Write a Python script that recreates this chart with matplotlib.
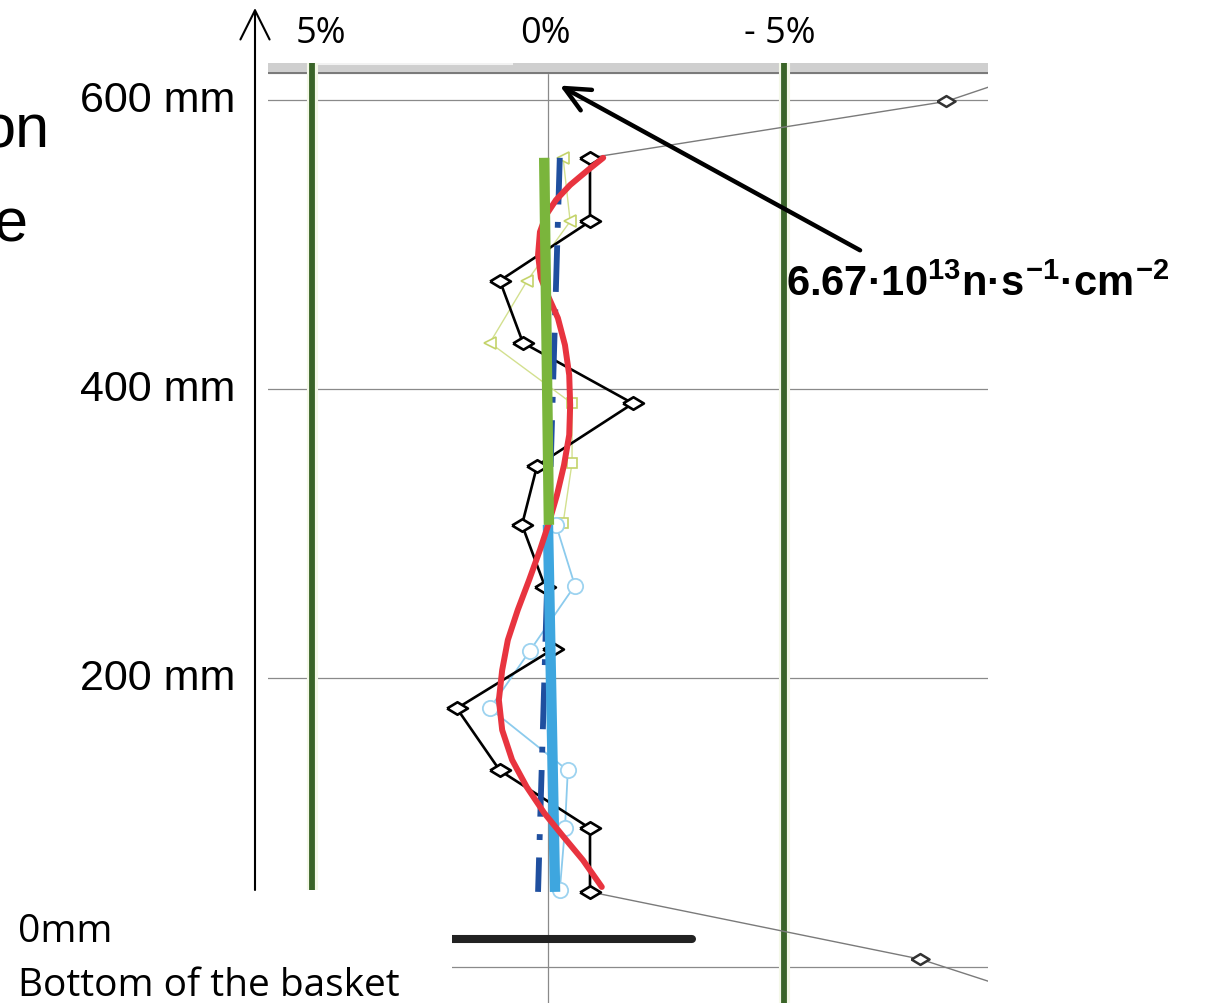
import matplotlib
matplotlib.use("Agg")
import matplotlib.pyplot as plt
from matplotlib.patches import Rectangle, FancyArrowPatch

W, H = 1205, 1007

plt.rcParams.update({
    "mathtext.fontset": "custom",
    "mathtext.rm": "Liberation Sans:bold",
    "mathtext.it": "Liberation Sans:bold",
    "mathtext.bf": "Liberation Sans:bold",
})

# axial profile: deviation in % (x) against height in the basket in mm (y)
meas_h = [560, 516, 475, 432, 390, 347, 306, 263, 220, 179, 136, 96, 52]
meas_dev = [-0.89, -0.89, 1.02, 0.53, -1.80, 0.23, 0.55, 0.06, -0.11, 1.93, 1.02, -0.89, -0.89]

fit_h = [560, 551.6, 541.2, 530.8, 520.4, 508.7, 492.7, 476.8, 463, 449.1, 430.4,
         409.7, 388.9, 368.2, 347.4, 326.6, 307.3, 288.6, 267.8, 247.1, 226.3,
         205.5, 184.8, 164, 143.3, 124.6, 106.6, 91.3, 74, 55.4]
fit_dev = [-1.17, -0.85, -0.47, -0.17, 0.04, 0.17, 0.21, 0.15, -0.02, -0.21, -0.36,
           -0.45, -0.47, -0.45, -0.34, -0.19, -0.02, 0.17, 0.40, 0.64, 0.85,
           0.97, 1.04, 0.97, 0.76, 0.45, 0.08, -0.30, -0.74, -1.14]

upper_h = [560, 306]
upper_dev = [0.08, -0.02]
lower_h = [306, 52]
lower_dev = [0.0, -0.15]

ref_h = [560, 52]
ref_dev = [-0.25, 0.21]

calc_up_h = [560, 516, 475, 432, 390, 349, 307]
calc_up_dev = [-0.32, -0.47, 0.44, 1.23, -0.51, -0.51, -0.32]
calc_low_h = [306, 264, 219, 179, 136, 96, 53]
calc_low_dev = [-0.17, -0.57, 0.38, 1.23, -0.42, -0.36, -0.25]

end_top_h = [560, 599, 635]
end_top_dev = [-0.89, -8.43, -11.7]
end_bot_h = [52, 5.5, -35]
end_bot_dev = [-0.89, -7.88, -11.7]

limits = [5, -5]
grid_h = [0, 200, 400, 600]
height_labels = ["600 mm", "400 mm", "200 mm"]
pct_labels = ["5%", "0%", "- 5%"]


def fx(x):
    return x / W


def fy(y):
    return 1 - y / H


fig = plt.figure(figsize=(W / 100, H / 100), dpi=100)
ax = fig.add_axes([fx(268), fy(1003), fx(988) - fx(268), fy(63) - fy(1003)])
ax.set_xlim(5.93, -9.32)
ax.set_ylim(-24.9, 625.6)
ax.axis("off")

# grid and header strip
for h in grid_h:
    ax.axhline(h, color="#8a8a8a", lw=0.9, zorder=1)
ax.axvline(0, color="#8a8a8a", lw=0.9, zorder=1)
ax.axhspan(618.7, 626, color="#cfcfcf", zorder=1)
ax.axhline(618.7, color="#6a6a6a", lw=1.2, zorder=1)
ax.plot([4.95, 0.76], [624.6, 624.6], color="#f2f2f2", lw=1.5, zorder=1)

for lim in limits:
    ax.axvline(lim, color="#f4f8e8", lw=8, zorder=1)
    ax.axvline(lim, color="#3a6428", lw=4.2, zorder=2)

diamond = [(-1, 0), (0, 0.6), (1, 0), (0, -0.6), (-1, 0)]

ax.plot(end_top_dev, end_top_h, color="#7a7a7a", lw=1, zorder=2)
ax.plot(end_bot_dev, end_bot_h, color="#7a7a7a", lw=1, zorder=2)
ax.plot(end_top_dev[1], end_top_h[1], ls="none", marker=diamond, ms=13,
        mfc="white", mec="#333333", mew=1.8, zorder=3)
ax.plot(end_bot_dev[1], end_bot_h[1], ls="none", marker=diamond, ms=13,
        mfc="white", mec="#333333", mew=1.8, zorder=3)

ax.plot(calc_up_dev, calc_up_h, color="#d3e08f", lw=1, zorder=2)
ax.plot(calc_up_dev[:4], calc_up_h[:4], ls="none", marker="<", ms=9,
        mfc="white", mec="#c4d36a", mew=1.2, zorder=2)
ax.plot(calc_up_dev[4:], calc_up_h[4:], ls="none", marker="s", ms=7,
        mfc="white", mec="#c4d36a", mew=1.2, zorder=2)

ax.plot(calc_low_dev, calc_low_h, color="#8ccbed", lw=1.3, marker="o", ms=11,
        mfc="white", mec="#9dd3f0", mew=1.3, zorder=2)

ax.plot(meas_dev, meas_h, color="black", lw=1.9, marker=diamond, ms=15,
        mfc="white", mec="black", mew=1.9, zorder=3)

ax.plot(ref_dev, ref_h, color="#1f4f9f", lw=4.2, ls=(0, (8, 3, 1, 3)), zorder=4)
ax.plot(lower_dev, lower_h, color="#3ea6df", lw=7.5, solid_capstyle="butt", zorder=5)
ax.plot(fit_dev, fit_h, color="#e8343f", lw=4.3, solid_capstyle="round",
        solid_joinstyle="round", zorder=6)
ax.plot(upper_dev, upper_h, color="#7ab53c", lw=7.5, solid_capstyle="butt", zorder=7)

# scale bar below the basket
ax.plot([3.0, -3.05], [19.7, 19.7], color="#222222", lw=5.8,
        solid_capstyle="round", zorder=3)

ax.annotate("", xy=(-0.25, 610), xytext=(-6.61, 496),
            arrowprops=dict(arrowstyle="->,head_length=0.6,head_width=0.28",
                            lw=3.2, color="black", shrinkA=0, shrinkB=0,
                            mutation_scale=30),
            zorder=9, annotation_clip=False)

# blank corner over the bottom of the picture
fig.add_artist(Rectangle((fx(258), 0), fx(452) - fx(258), fy(890),
                         transform=fig.transFigure, facecolor="white",
                         edgecolor="none", zorder=5))

fig.add_artist(FancyArrowPatch((fx(255), fy(890)), (fx(255), fy(8)),
                               transform=fig.transFigure,
                               arrowstyle="->,head_length=0.7,head_width=0.35",
                               mutation_scale=30, lw=1.5, color="black",
                               shrinkA=0, shrinkB=0, zorder=6))

for label, y in zip(height_labels, [112, 401, 690]):
    fig.text(fx(235), fy(y), label, ha="right", va="baseline", fontsize=31,
             family="Liberation Sans", zorder=6)

for label, x in zip(pct_labels, [321, 545, 780]):
    fig.text(fx(x), fy(43), label, ha="center", va="baseline", fontsize=26,
             family="Open Sans", zorder=6)

fig.text(fx(49), fy(147), "on", ha="right", va="baseline", fontsize=44,
         family="Liberation Sans", zorder=6)
fig.text(fx(27), fy(242), "e", ha="right", va="baseline", fontsize=44,
         family="Liberation Sans", zorder=6)

fig.text(fx(18), fy(942), "0mm", ha="left", va="baseline", fontsize=28,
         family="Open Sans", zorder=6)
fig.text(fx(18), fy(996), "Bottom of the basket", ha="left", va="baseline",
         fontsize=28, family="Open Sans", zorder=6)

fig.text(fx(786), fy(296), "$6.67·10^{13}n·s^{-1}·cm^{-2}$", ha="left",
         va="baseline", fontsize=30, zorder=10)

fig.savefig("out.png", dpi=100)
